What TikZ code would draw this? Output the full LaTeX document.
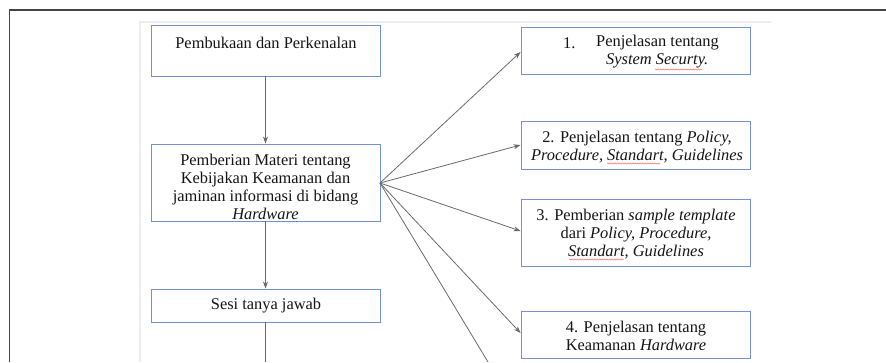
\documentclass[tikz,border=0pt]{standalone}
\usepackage{fontspec}
\setmainfont{Liberation Serif}
\usetikzlibrary{arrows.meta,decorations.pathmorphing}
\definecolor{boxblue}{HTML}{7393C8}
\definecolor{arrowgray}{HTML}{6A6A6A}
\definecolor{framegray}{HTML}{454545}
\definecolor{txt}{HTML}{151515}
\definecolor{faint}{HTML}{EDEDED}
\tikzset{
  boxnode/.style={draw=boxblue, line width=0.9pt, rectangle, inner sep=0pt, fill=white},
  lbl/.style={inner sep=0pt, text=txt, font=\fontsize{16.4}{18}\selectfont, align=center},
  conn/.style={draw=arrowgray, line width=0.8pt},
  arr/.style={conn, -{Stealth[length=7pt,width=5pt]}},
  wavy/.style={draw=red!70, line width=0.4pt, decorate, decoration={snake, amplitude=0.6pt, segment length=2.5pt}}
}
\begin{document}
\begin{tikzpicture}[x=1pt,y=-1pt]
\useasboundingbox (0,0) rectangle (886,362);
\fill[white] (0,0) rectangle (886,362);
% faint page edge
\draw[faint, line width=1.2pt] (140,362) -- (140,22) -- (771,22);
% outer frame
\draw[framegray, line width=1.2pt] (9.5,362) -- (9.5,10) -- (886,10);

% left column boxes
\node[boxnode, minimum width=229pt, minimum height=51pt] (A) at (265.5,50.5) {};
\node[boxnode, minimum width=229pt, minimum height=77pt] (B) at (265.5,182.5) {};
\node[boxnode, minimum width=229pt, minimum height=33pt] (C) at (265.5,305.5) {};

% right column boxes
\node[boxnode, minimum width=229pt, minimum height=47pt] (R1) at (635.5,50.5) {};
\node[boxnode, minimum width=229pt, minimum height=48pt] (R2) at (635.5,145) {};
\node[boxnode, minimum width=229pt, minimum height=67pt] (R3) at (635.5,232.5) {};
\node[boxnode, minimum width=229pt, minimum height=47pt] (R4) at (635.5,334.5) {};

% texts
\node[lbl] (tA) at (266,43) {Pembukaan dan Perkenalan};
\node[lbl] (tB) at (265.5,187) {Pemberian Materi tentang\\Kebijakan Keamanan dan\\jaminan informasi di bidang\\\textit{Hardware}};
\node[lbl] (tC) at (266,306) {Sesi tanya jawab};

\node[lbl, anchor=west] (t1n) at (563,43) {1.};
\node[lbl, anchor=west] (t1a) at (596,43) {Penjelasan tentang};
\node[lbl, anchor=west] (t1b) at (606,61) {\textit{System Securty.}};
\node[lbl] (t2) at (637,147) {2. Penjelasan tentang \textit{Policy,}\\\textit{Procedure, Standart, Guidelines}};
\node[lbl] (t3) at (636,234) {3. Pemberian \textit{sample template}\\dari \textit{Policy, Procedure,}\\\textit{Standart, Guidelines}};
\node[lbl] (t4) at (636,336) {4. Penjelasan tentang\\Keamanan \textit{Hardware}};

% spell-check underlines
\draw[wavy] (655,69.5) -- (702,69.5);
\draw[wavy] (607,163.5) -- (660,163.5);
\draw[wavy] (569,259.5) -- (624,259.5);

% vertical connectors
\draw[arr] (A.south) -- (B.north);
\draw[arr] (B.south) -- (C.north);
\coordinate (Cend) at (265.5,362);
\draw[conn] (C.south) -- (Cend);

% fan out
\coordinate (fan) at (380,183);
\draw[arr] (fan) -- ([yshift=-1.5pt]R1.west);
\draw[arr] (fan) -- (R2.west);
\draw[arr] (fan) -- ([yshift=1.5pt]R3.west);
\draw[arr] (fan) -- ([yshift=1.5pt]R4.west);
\coordinate (fanend) at (488,362);
\draw[conn] (fan) -- (fanend);
\end{tikzpicture}
\end{document}
